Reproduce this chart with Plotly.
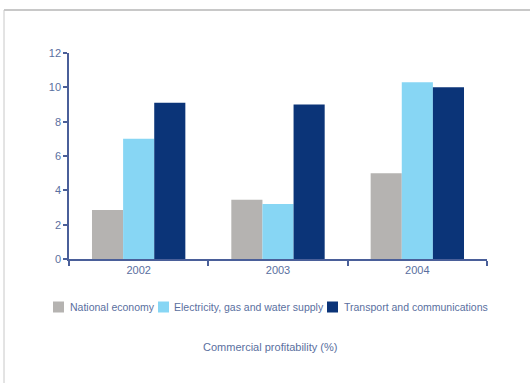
import plotly.graph_objects as go

years = ["2002", "2003", "2004"]
national_economy = [2.85, 3.45, 5.0]
electricity_gas_water = [7.0, 3.2, 10.3]
transport_comm = [9.1, 9.0, 10.0]
series_names = ["National economy", "Electricity, gas and water supply", "Transport and communications"]
series_colors = ["#b5b3b1", "#87d6f4", "#0b3478"]
y_ticks = [0, 2, 4, 6, 8, 10, 12]

W, H = 530, 383
L, R, T, B = 69, 43, 53, 124
pw, ph = W - L - R, H - T - B

def px_x(x):
    return (x - L) / pw

def px_y(y):
    return (H - B - y) / ph

fig = go.Figure()
for name, vals, col in zip(series_names, [national_economy, electricity_gas_water, transport_comm], series_colors):
    fig.add_trace(go.Bar(x=years, y=vals, name=name, showlegend=False,
                         marker=dict(color=col, line=dict(width=0))))

axis_col = "#4a5f99"
text_col = "#5a6fa0"
font = "Liberation Sans, Arial, sans-serif"

# legend layout (pixel positions of swatch left edges and text starts)
swatch_left = [53, 158, 327]
text_left = [68, 172, 342]
legend_y = 307
shapes = [
    dict(type="line", xref="paper", yref="paper", x0=px_x(4), x1=px_x(531), y0=px_y(10), y1=px_y(10),
         line=dict(color="#c8c8c8", width=2)),
    dict(type="line", xref="paper", yref="paper", x0=px_x(4), x1=px_x(4), y0=px_y(10), y1=px_y(384),
         line=dict(color="#c8c8c8", width=1)),
]
annotations = [dict(text="Commercial profitability (%)", x=px_x(270), y=px_y(347),
                    xref="paper", yref="paper", xanchor="center", yanchor="middle",
                    showarrow=False, font=dict(size=11, color=text_col))]
for name, col, sx, tx in zip(series_names, series_colors, swatch_left, text_left):
    shapes.append(dict(type="rect", xref="paper", yref="paper",
                       x0=px_x(sx), x1=px_x(sx + 11), y0=px_y(legend_y - 5.5), y1=px_y(legend_y + 5.5),
                       fillcolor=col, line=dict(width=0)))
    annotations.append(dict(text=name, x=px_x(tx), y=px_y(legend_y), xref="paper", yref="paper",
                            xanchor="left", yanchor="middle", showarrow=False,
                            font=dict(size=10.5, color=text_col)))

fig.update_layout(
    width=W, height=H,
    margin=dict(l=L, r=R, t=T, b=B, pad=0),
    paper_bgcolor="white", plot_bgcolor="white",
    barmode="group", bargap=0.33, bargroupgap=0,
    font=dict(family=font, size=11, color=text_col),
    showlegend=False,
    xaxis=dict(type="category", showline=True, linecolor=axis_col, linewidth=1.5,
               ticks="outside", tickson="boundaries", ticklen=5, tickcolor=axis_col, tickwidth=1.5,
               showgrid=False, zeroline=False, tickfont=dict(size=11, color=text_col),
               range=[-0.5, 2.5]),
    yaxis=dict(range=[0, 12], tickvals=y_ticks, showline=True, linecolor=axis_col, linewidth=1.5,
               ticks="outside", ticklen=4, tickcolor=axis_col, tickwidth=1.5,
               showgrid=False, zeroline=False, tickfont=dict(size=11, color=text_col)),
    annotations=annotations,
    shapes=shapes,
)

fig.write_html("out.html")
